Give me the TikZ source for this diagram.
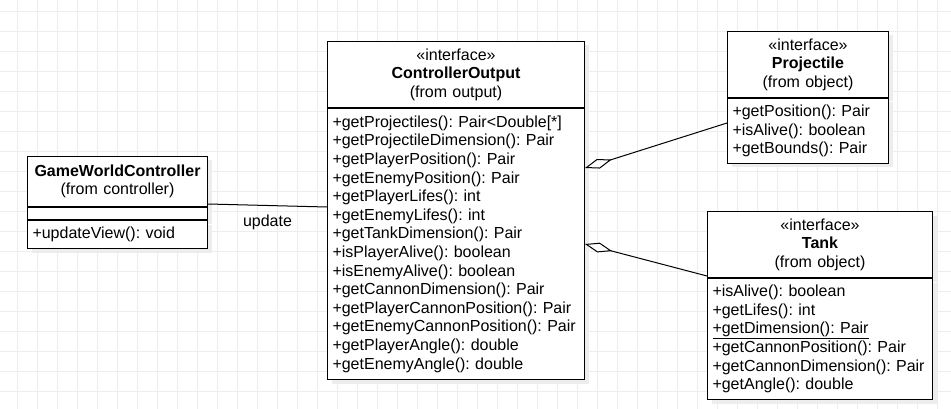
\documentclass[tikz,border=0pt]{standalone}
\usepackage{fontspec}
\setmainfont{Liberation Sans}
\usetikzlibrary{positioning,arrows.meta,shadows}

\newcommand{\umlfont}{\fontsize{16pt}{18.6pt}\selectfont\frenchspacing}

\tikzset{
  gridline/.style={draw=black!7, line width=0.8pt},
  umlbox/.style={draw=black, fill=white, line width=1pt, inner xsep=5pt, inner ysep=0pt,
    font=\umlfont,
    drop shadow={shadow xshift=4pt, shadow yshift=-4pt, fill=black!7, opacity=1}},
  umlhead/.style={umlbox, align=center},
  umlbody/.style={umlbox, align=left},
  assoc/.style={draw=black, line width=1pt},
  aggr/.style={assoc, {Diamond[fill=white, length=28pt, width=10pt, line width=1pt]}-},
}

\begin{document}
\begin{tikzpicture}[x=1pt,y=-1pt]
  \useasboundingbox (0,0) rectangle (951,409);
  \fill[white] (0,0) rectangle (951,409);

  % background grid
  \foreach \gx in {0,...,46}
    \draw[gridline] (17.5+20*\gx,0) -- (17.5+20*\gx,409);
  \foreach \gy in {0,...,19}
    \draw[gridline] (0,11+20*\gy) -- (951,11+20*\gy);

  % GameWorldController
  \node[umlhead, text width=170pt, minimum height=50pt, anchor=north west] (gwchead) at (27,156)
    {\textbf{GameWorldController}\\(from controller)};
  \node[umlbody, text width=170pt, minimum height=12pt, below=0pt of gwchead] (gwcattr) {};
  \node[umlbody, text width=170pt, minimum height=28pt, below=0pt of gwcattr] (gwcbody)
    {+updateView(): void};

  % ControllerOutput
  \node[umlhead, text width=247pt, minimum height=66pt, anchor=north west] (cohead) at (327,41)
    {«interface»\\\textbf{ControllerOutput}\\(from output)};
  \node[umlbody, text width=247pt, minimum height=271pt, below=0pt of cohead] (cobody)
    {+getProjectiles(): Pair<Double[*]\\
     +getProjectileDimension(): Pair\\
     +getPlayerPosition(): Pair\\
     +getEnemyPosition(): Pair\\
     +getPlayerLifes(): int\\
     +getEnemyLifes(): int\\
     +getTankDimension(): Pair\\
     +isPlayerAlive(): boolean\\
     +isEnemyAlive(): boolean\\
     +getCannonDimension(): Pair\\
     +getPlayerCannonPosition(): Pair\\
     +getEnemyCannonPosition(): Pair\\
     +getPlayerAngle(): double\\
     +getEnemyAngle(): double};

  % Projectile
  \node[umlhead, text width=151pt, minimum height=66pt, anchor=north west] (prjhead) at (727,31)
    {«interface»\\\textbf{Projectile}\\(from object)};
  \node[umlbody, text width=151pt, minimum height=65pt, below=0pt of prjhead] (prjbody)
    {+getPosition(): Pair\\
     +isAlive(): boolean\\
     +getBounds(): Pair};

  % Tank
  \node[umlhead, text width=215pt, minimum height=66pt, anchor=north west] (tankhead) at (707,211)
    {«interface»\\\textbf{Tank}\\(from object)};
  \node[umlbody, text width=215pt, minimum height=121pt, below=0pt of tankhead] (tankbody)
    {+isAlive(): boolean\\
     +getLifes(): int\\
     \underline{+getDimension(): Pair}\\
     +getCannonPosition(): Pair\\
     +getCannonDimension(): Pair\\
     +getAngle(): double};

  % connectors
  \draw[assoc] ([yshift=3pt]gwchead.south east) -- (gwchead.south east -| cobody.west)
    node[midway, below=9pt, inner sep=0pt, font=\umlfont] (updlabel) {update};
  \draw[aggr] ([yshift=-60pt]cobody.north east) -- ([yshift=-25pt]prjbody.north west);
  \draw[aggr] ([yshift=-136pt]cobody.north east) -- ([yshift=2pt]tankhead.south west);
\end{tikzpicture}
\end{document}
